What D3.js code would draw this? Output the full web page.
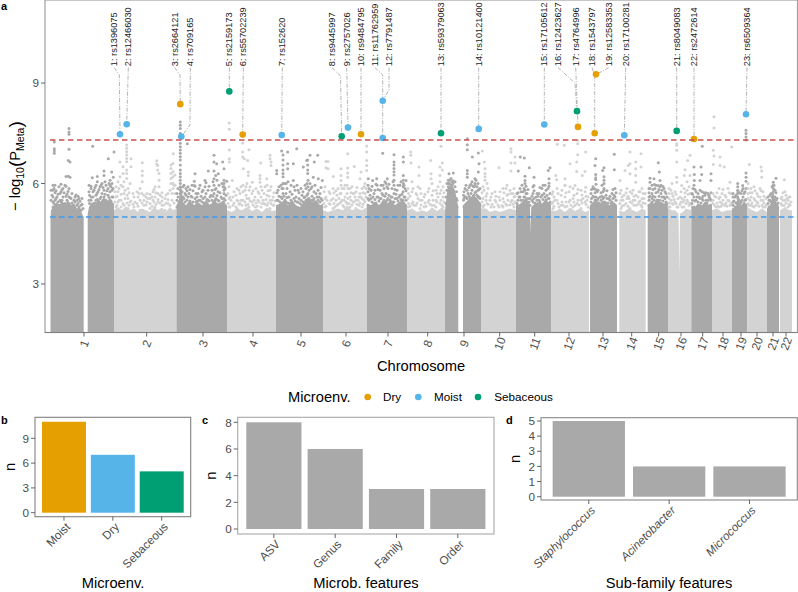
<!DOCTYPE html>
<html><head><meta charset="utf-8">
<script src="https://cdn.jsdelivr.net/npm/d3@7"></script>
<style>html,body{margin:0;padding:0;background:#fff}svg{display:block;font-family:"Liberation Sans",Arial,sans-serif}</style>
</head><body><svg id="c" width="798" height="592"></svg>
<script>
// ---------- panel a data: genome position is in plot units (0..742), value is -log10(P)
const chrNames=["1","2","3","4","5","6","7","8","9","10","11","12","13","14","15","16","17","18","19","20","21","22"];
const chrTicks=[34,96.7,153,203,251,296,338,377.7,414,449.7,484.7,519,553,581.7,608.7,631,652.7,673,691,707,723,736];
const chrShade=[1,0,1,0,1,0,1,0,1,0,1,0,1,0,1,0,1,0,1,0,1,0];
const chrProfiles=[
 [[[0.5,4.9],[1,5.2],[4,5.35],[7,5.45],[9,5.3],[12,5.5],[15,5.35],[18,5.5],[21,5.3],[24,5.4],[27,5.25],[30,5.3],[32,5.1],[33.7,5.0]],[[37.7,5.1],[39,5.3],[42,5.45],[45,5.35],[48,5.55],[51,5.45],[54,5.6],[57,5.45],[60,5.55],[62,5.45],[64,5.4]]],
 [[[64,5.2],[68,5.3],[72,5.2],[76,5.32],[80,5.2],[84,5.25],[88,5.15],[92,5.25],[96,5.2],[100,5.15],[104,5.3],[108,5.2],[112,5.28],[116,5.15],[120,5.3],[123,5.2],[126.5,5.25]]],
 [[[126.5,5.35],[129,5.5],[130,5.9],[131.5,5.9],[133,5.45],[136,5.35],[140,5.5],[144,5.35],[148,5.45],[152,5.35],[156,5.5],[160,5.35],[164,5.5],[168,5.4],[172,5.45],[177,5.35]]],
 [[[177,5.2],[182,5.15],[187,5.25],[192,5.2],[197,5.3],[202,5.18],[207,5.25],[212,5.15],[217,5.28],[222,5.18],[226,5.2]]],
 [[[226,5.35],[230,5.4],[234,5.5],[238,5.35],[242,5.5],[246,5.35],[250,5.3],[254,5.45],[258,5.6],[262,5.45],[266,5.5],[270,5.35],[273,5.4]]],
 [[[273,5.2],[278,5.15],[283,5.2],[288,5.25],[293,5.2],[297,5.35],[302,5.2],[307,5.25],[312,5.2],[317,5.3]]],
 [[[317,5.4],[321,5.35],[325,5.45],[329,5.35],[333,5.5],[337,5.4],[341,5.5],[345,5.35],[349,5.45],[353,5.5],[357,5.35]]],
 [[[357,5.2],[362,5.25],[367,5.15],[372,5.2],[377,5.15],[382,5.28],[387,5.18],[392,5.28],[395,5.2]]],
 [[[395,5.2],[396.5,5.6],[398,5.9],[402,5.95],[405,5.8],[408.3,5.3]],[[413,5.35],[416,5.45],[421,5.6],[426,5.6],[431,5.4]]],
 [[[431,5.25],[436,5.25],[440,5.15],[445,5.2],[450,5.15],[455,5.2],[460,5.25],[466,5.2]]],
 [[[466,5.35],[472,5.4],[476,5.6],[480,5.35],[480.6,4.5],[481.2,5.3],[485,5.4],[488,5.45],[492,5.4],[495,5.5],[501,5.4]]],
 [[[501,5.2],[506,5.18],[510,5.25],[515,5.15],[520,5.28],[525,5.18],[530,5.25],[535,5.15],[539,5.2]]],
 [[[540,5.35],[543,5.45],[546,5.5],[550,5.4],[553,5.5],[556,5.4],[560,5.35],[564,5.45],[567,5.35]]],
 [[[569.3,5.2],[574,5.15],[578,5.25],[583,5.2],[587,5.15],[592,5.25],[595.7,5.2]]],
 [[[597.7,5.35],[601,5.45],[604,5.4],[607,5.55],[610,5.45],[614,5.4],[618,5.45]]],
 [[[618,5.25],[622,5.2],[625,5.2],[628.6,5.1],[629.3,3.2],[630,5.1],[633,5.15],[636,5.25],[641,5.2]]],
 [[[641.3,5.35],[645,5.3],[648,5.4],[652,5.35],[655,5.45],[659,5.35],[662,5.4]]],
 [[[662,5.2],[667,5.25],[672,5.15],[677,5.2],[682,5.2]]],
 [[[682,5.25],[686,5.3],[688,5.6],[690,5.35],[694,5.4],[697.3,5.4]]],
 [[[697.3,5.3],[702,5.2],[707,5.15],[712,5.25],[717,5.15]]],
 [[[717,5.25],[721,5.4],[723,5.85],[725,5.5],[729,5.3]]],
 [[[730,5.2],[733,5.25],[736,5.25],[739,5.2],[742,5.2]]]
];
// scattered SNPs above the solid mass: [position,value,value...]
const chr1Snps=[[4.3,7.24,7.04,6.98,6.9],[19,7.64,7.54,7.47,7.02],[18.3,6.69,6.22],[20,6.64,6.19],[16,6.21],[3,5.95,5.8,5.6,5.45,5.3],[5,5.95,5.72,5.5,5.2],[7,5.6,5.35,5.15],[10,5.7,5.5,5.3],[11,5.98,5.75,5.45],[13,5.85,5.6,5.25],[15,5.95,5.4,5.2],[17,5.68,5.5,5.3],[19,5.85,5.6,5.4,5.15],[21,5.55,5.3],[23,5.35,5.2],[25,5.6,5.45,5.25],[27,5.5,5.35,5.15],[29,5.55,5.3],[31,5.35,5.2],[33,5.25],[42.7,7.11],[64,6.94],[58.3,6.74],[54,6.37,6.24],[61.7,6.34],[47.3,6.21,6.05],[42.3,6.17],[63.3,6.19],[60,6.1,5.95],[62,6.0],[39,5.95,5.75,5.5],[41,5.85,5.6,5.3],[44,5.8,5.4,5.2],[46,5.95,5.65,5.5],[48,5.75,5.3],[50,5.9,5.55,5.35],[52,6.0,5.7,5.45],[54,5.8,5.6,5.3],[56,5.95,5.5,5.2],[58,5.85,5.65,5.4],[60,5.75,5.5,5.3],[62,5.8,5.6,5.35],
 [1,5.5,5.8],[2,5.65],[4,5.4,5.85],[6,5.55,5.78],[8,5.45,5.68],[9,5.9,5.35],[12,5.5,5.82],[14,5.38,5.72],[16,5.62,5.92],[18,5.42,5.76],[20,5.58,5.35],[22,5.7,5.42],[24,5.5,5.34],[26,5.66],[28,5.4,5.62],[30,5.47],[32,5.38,5.55],[39.5,5.4,5.65],[41,5.5,5.92],[43,5.6,5.75],[45,5.42,5.88],[47,5.52,5.7],[49,5.45,5.82],[51,5.6,5.95],[53,5.5,5.88],[55,5.68,6.05],[57,5.45,5.78],[59,5.58,6.0],[61,5.47,5.9],[63,5.6,5.85]];
const chr2Snps=[[76.7,7.15,7.05,6.95,6.85,6.75,6.65,6.4,6.3,6.15],[70,6.64,6.2],[81,6.74,6.5],[73,6.5,6.3],[92.3,6.62,6.37,6.24,6.05],[106.7,6.68,6.58],[107.7,6.54,6.4],[109,6.3,6.1,5.9],[123.3,6.89],[121,6.55,6.45,6.3,6.15,6],[123,6.6,6.35,6.2,6,5.85],[125,6.25,5.95,5.7],[66,5.9,5.6,5.3],[68,6.05,5.75,5.45],[71,5.95,5.5],[74,6.05,5.7,5.35],[78,5.85,5.55,5.25],[80,6,5.45],[84,5.6,5.3],[87,5.75,5.4],[90,5.85,5.5,5.2],[94,5.65,5.35],[97,5.7,5.45],[100,5.55,5.25],[103,5.75,5.5],[105,5.9,5.6,5.3],[108,5.7,5.45],[112,5.6,5.35],[115,5.55,5.2],[118,5.7,5.4],
 [65,5.45,5.75],[67,5.35,5.62],[69,5.5,5.85],[71,5.3,5.68],[73,5.4,5.9],[75,5.55,5.8],[77,5.42,5.65],[79,5.35,5.72],[81,5.48],[83,5.38,5.7],[85,5.45],[88,5.32,5.6],[89,5.7],[92,5.42,5.7],[94,5.5],[96,5.36,5.6],[98,5.55],[100,5.4,5.68],[102,5.32,5.6],[104,5.45,5.82],[106,5.38,5.72],[108,5.52],[110,5.42,5.65],[112,5.48,5.72],[114,5.36],[116,5.42,5.66],[118,5.52],[120,5.35,5.8],[122,5.5,5.7],[124,5.42,5.95]];
const chr3Snps=[[130.3,7.84,7.74,7.64,7.5,7.2,7.1,7.0,6.9,6.8,6.7,6.55,6.4,6.3,6.2,6.1,6,5.9,5.8,5.7,5.5,5.4],[137.3,7.19],[145,6.29],[144.3,6.07,5.94],[164,6.84,6.64,6.37,6.14],[166.7,6.59],[172.7,6.64],[174,6.44,6.1,6,5.9,5.8,5.7,5.55,5.4],[158.3,6.37],[168.3,6.29],[165.7,6.24],[155,6.09],[176.7,6.07],[127,5.7,5.5,5.3],[133,5.9,5.6,5.35],[136,5.85,5.65,5.3],[139,5.7,5.4],[142,5.95,5.6,5.35],[146,5.7,5.45,5.2],[149,5.85,5.5],[152,5.75,5.45],[155,5.9,5.6,5.3],[158,5.8,5.5],[161,5.65,5.35],[164,5.95,5.7,5.45],[166,5.85,5.55,5.3],[168,5.75,5.5],[171,5.6,5.35],[173,5.9,5.45],
 [128,5.6,5.85],[129,5.45],[132,5.5,5.75],[134,5.55,5.95],[135,5.45,5.7],[137,5.5,5.78],[138,5.6,5.9],[140,5.48,5.82],[141,5.62],[143,5.45,5.78],[145,5.55,5.92],[147,5.48,5.6],[148,5.7],[150,5.5,5.95],[151,5.62],[153,5.55,5.8],[154,5.42],[156,5.7,6.02],[157,5.52],[159,5.48,5.92],[160,5.6],[162,5.5,5.8],[163,5.62,6.05],[165,5.5,5.82],[167,5.64,6.1],[169,5.48,5.95],[170,5.72],[172,5.55,6.0],[175,5.5,5.85],[176,5.65]];
const chr4Snps=[[179.3,7.81,7.62,7.0,6.74,6.64],[192.7,7.21,6.94,6.79],[194.3,6.74],[199,7.01],[197.7,6.69],[193.3,6.44],[198.3,6.34,6.24],[182.3,6.09],[220,6.84,6.74],[221,6.64,6.54],[210.7,6.61],[210,6.24,6.14,6.04],[216.7,6.14],[202.3,6.04],[179,5.9,5.55,5.3],[183,5.6,5.35],[187,5.85,5.5,5.25],[190,5.7,5.4],[193,5.95,5.75,5.5],[196,5.9,5.65,5.35],[199,5.8,5.55,5.3],[202,5.7,5.45],[205,5.6,5.3],[208,5.75,5.5],[211,5.9,5.6,5.3],[214,5.7,5.4],[217,5.95,5.65,5.35],[220,5.8,5.5,5.25],[223,5.6,5.35],
 [178,5.4,5.7],[180,5.3,5.6],[181,5.5],[184,5.42,5.75],[186,5.3,5.65],[188,5.48],[189,5.38,5.8],[191,5.5,5.9],[192,5.35],[195,5.45,5.8],[197,5.55,6.0],[198,5.38],[200,5.48,5.9],[203,5.36,5.78],[204,5.5],[206,5.42,5.85],[207,5.32],[209,5.45,5.7],[212,5.4,5.8],[213,5.5],[215,5.38,5.9],[216,5.52],[218,5.42,5.78],[219,5.62],[221,5.4,5.9],[222,5.5],[224,5.36,5.72],[225,5.48]];
const chr5Snps=[[231.7,6.97],[237.7,6.94,6.59,6.44],[246.7,7.04],[233,6.85,6.7,6.55,6.4,6.3,6.2,6.0,5.85,5.7],[243.3,6.59,6.09],[253.3,6.49],[256.7,6.69],[260,6.84],[257.7,6.7,6.55,6.4,6.3],[264.3,6.64],[267.7,6.84],[263.3,6.19],[268.3,6.14],[272.3,6.09],[226.7,6.39,6.29],[228,5.8,5.5,5.3],[231,5.95,5.6,5.35],[236,6,5.7,5.45],[240,5.75,5.4],[244,5.9,5.55,5.3],[248,5.8,5.45],[252,5.65,5.35],[255,5.95,5.6,5.4],[258,6.1,5.9,5.7,5.5],[261,5.85,5.5,5.3],[264,5.75,5.55,5.35],[267,5.6,5.4],[270,5.7,5.45,5.25],[272,5.5,5.3],
 [227,5.5,5.72],[229,5.62,5.9],[230,5.45],[232,5.55,5.85],[234,5.62,6.0],[235,5.5],[237,5.58,5.85],[238,5.42,6.05],[239,5.6],[241,5.5,5.95],[242,5.68],[245,5.48,5.8],[246,5.6],[247,5.45,5.95],[249,5.55,5.72],[250,5.4],[251,5.5,5.85],[253,5.45,5.75],[254,5.58],[256,5.5,5.85],[257,5.65,6.0],[259,5.55,5.8],[260,5.42,6.0],[262,5.62,5.9],[263,5.5],[265,5.45,5.95],[266,5.7],[268,5.5,5.8],[269,5.6],[271,5.55,5.88]];
const chr6Snps=[[276,6.66,6.47],[278,6.66,6.44],[283.3,6.21],[291,6.44,6.24,6.09],[297.7,6.89,6.46,6.31,6.19],[304.3,6.51],[310,6.14],[311,6.34],[316.7,7.12,6.94,6.69,6.54,6.39],[275,5.9,5.55,5.3],[279,5.75,5.4],[283,5.85,5.55,5.25],[287,5.65,5.35],[291,5.95,5.7,5.45],[294,5.85,5.5,5.3],[297,5.95,5.7,5.4],[300,5.85,5.6,5.3],[303,5.7,5.45],[306,5.75,5.5,5.25],[309,5.6,5.35],[312,5.85,5.55,5.3],[315,6,5.7,5.45],
 [274,5.4,5.75],[276,5.32,5.6],[277,5.5],[280,5.38,5.7],[281,5.5],[284,5.4,5.72],[285,5.3],[286,5.5,5.78],[288,5.38,5.85],[289,5.55],[290,5.42,5.7],[292,5.5,5.85],[293,5.34],[295,5.6,5.95],[296,5.45],[298,5.55,5.85],[299,5.4],[301,5.5,5.72],[302,5.36,5.9],[304,5.45,5.7],[305,5.6],[307,5.38,5.88],[308,5.5],[310,5.42,5.7],[311,5.6],[313,5.38,5.72],[314,5.5,5.9],[316,5.6,5.85]];
const chr7Snps=[[332.7,6.9],[344,6.86,6.64,6.55,6.45,6.35,6.25,6.1],[353.3,6.79,6.64,6.24,6.1,6,5.9],[318.3,6.14],[322.7,6.09],[326.7,6.14],[337.3,6.14],[356,6.09],[318,5.95,5.75,5.55,5.35],[321,5.8,5.55,5.3],[324,5.7,5.4],[327,5.95,5.6,5.35],[330,5.8,5.55],[333,5.95,5.65,5.35],[336,6,5.7,5.45],[338,5.85,5.55,5.3],[341,5.6,5.35],[344,5.95,5.7,5.45],[347,5.8,5.55,5.3],[350,5.95,5.65,5.4],[353,5.75,5.5,5.3],[355,5.85,5.6,5.35],
 [319,5.5,5.85],[320,5.65],[322,5.45,5.92],[323,5.6],[325,5.52,5.8],[326,5.42,5.98],[328,5.6,5.82],[329,5.48],[331,5.55,5.95],[332,5.7],[334,5.5,5.85],[335,5.62,6.05],[337,5.5,5.9],[339,5.65,5.98],[340,5.5],[342,5.6,5.85],[343,5.45,6.05],[345,5.55,5.82],[346,5.68],[348,5.48,5.95],[349,5.6],[351,5.52,6.05],[352,5.68],[354,5.6,5.95],[356,5.5,5.78]];
const chr8Snps=[[360.7,6.94,6.84],[361,6.61],[369,6.49,6.24],[380.7,6.69],[381,6.29,6.14],[391,7.11],[392.3,6.61,6.4],[390,6.49,6.24],[358,5.85,5.55,5.3],[362,6.05,5.75,5.4],[366,5.7,5.35],[370,5.85,5.5,5.25],[374,5.6,5.3],[378,5.75,5.45],[382,6,5.65,5.35],[386,5.8,5.5,5.3],[390,6.05,5.7,5.4],[393,5.9,5.6,5.3],
 [358.5,5.4,5.7],[360,5.32,5.62],[363,5.45,5.85],[364,5.35],[367,5.42,5.66],[368,5.55,5.9],[371,5.36,5.7],[372,5.5],[375,5.42,5.68],[376,5.32],[379,5.5,5.85],[380,5.38],[383,5.5,5.78],[384,5.35],[387,5.45,5.7],[388,5.6,5.9],[391,5.5,5.8],[392,5.35],[394,5.45,5.72]];
const chr9Snps=[[399,6.29],[403.3,6.31],[398.3,6.1,6,5.9,5.8,5.7,5.6],[402,6.05,5.95],[417.3,7.34,7.16,7.01,6.39,6.29,6.19],[422.3,6.79],[428.3,6.91,6.34],[429,6.59],[425,6.14,6.0],[396,5.6,5.4],[407,5.5,5.3],[414,5.75,5.55,5.3],[416,5.95,5.6],[418,5.7,5.4],[420,5.95,5.55,5.3],[422,6.05,5.8,5.45],[424,5.9,5.65,5.35],[426,6.1,5.75,5.5],[428,6.0,5.8,5.6,5.3],[430,5.85,5.55,5.35],
 [397,5.8,6.0],[399.5,6.0,6.1],[401,5.95,6.15],[403,6.0,6.08],[405,5.9,6.05],[406.5,5.55,5.75],[413.5,5.5,5.65],[415,5.6,5.85],[417,5.55,5.8],[419,5.62,5.88],[421,5.7,5.98],[423,5.62,5.92],[425,5.72,5.95],[427,5.65,5.9],[429,5.6,5.82]];
const chr10Snps=[[432.3,6.97],[434.3,6.64],[435,6.44,6.3,6.2,6.1],[449,6.47],[461,7.04,6.94,6.61,6.37],[465,6.79,6.61],[433,5.9,5.55,5.3],[437,6,5.7,5.4],[441,5.6,5.3],[445,5.75,5.5],[449,5.6,5.3],[453,5.85,5.55,5.3],[457,5.95,5.65,5.35],[461,5.7,5.45],[464,5.85,5.6,5.3],
 [432,5.45,5.72],[434,5.35,5.8],[436,5.5,5.62],[438,5.38,5.85],[440,5.5],[442,5.38,5.7],[444,5.3],[446,5.45,5.62],[448,5.36],[450,5.5,5.75],[452,5.34],[454,5.45,5.72],[456,5.38,5.85],[458,5.5,5.68],[460,5.36,5.8],[462,5.5],[463,5.38,5.7],[465,5.45,5.62]];
const chr11Snps=[[470.3,6.79],[474.3,6.76],[468.3,6.37],[479.3,6.47],[475,6.22,6.09],[484,6.19,5.94],[500,6.47],[498.3,6.39],[499,6.14,6.01],[467,5.7,5.4],[470,5.85,5.6,5.3],[473,5.75,5.5],[475,6.0,5.8,5.6,5.4],[477,5.7,5.45],[480,5.55,5.35],[483,5.9,5.7,5.45],[486,5.6,5.35],[489,5.7,5.5],[492,5.85,5.65,5.35],[495,5.95,5.6,5.4],[498,5.85,5.55,5.3],[500,5.7,5.45],
 [468,5.5,5.72],[469,5.6],[471,5.5,5.75],[472,5.4,5.95],[474,5.6,5.85],[476,5.7,5.92],[478,5.55,5.82],[479,5.45],[482,5.5,5.62],[484,5.55,5.78],[485,5.42],[487,5.5,5.7],[488,5.62],[490,5.45,5.88],[491,5.6],[493,5.52,5.95],[494,5.7],[496,5.5,5.8],[497,5.65],[499,5.55,5.92]];
const chr12Snps=[[507.3,7.17],[514.3,7.14],[505.7,6.24],[506.7,6.11],[515,6.14,5.94],[520,6.59],[527.7,7.29,7.19,6.86],[535.7,6.94],[526.7,6.64,6.36],[535,6.36],[532.3,6.24],[525,5.94],[535.7,5.89],[503,5.75,5.45,5.25],[507,5.85,5.5],[511,5.65,5.35],[515,5.95,5.6,5.3],[519,5.75,5.45],[523,5.85,5.55,5.3],[527,5.7,5.4],[531,5.8,5.5,5.25],[535,5.75,5.45],[538,5.6,5.3],
 [502,5.4,5.68],[504,5.32,5.6],[505,5.5],[508,5.4,5.7],[509,5.3],[512,5.45,5.8],[513,5.35],[516,5.45,5.72],[517,5.32],[520,5.5,5.9],[521,5.36],[524,5.45,5.65],[525,5.34],[528,5.5,5.82],[529,5.36],[532,5.42,5.66],[533,5.55],[536,5.38,5.62],[537,5.5]];
const chr13Snps=[[545.7,6.74,6.27,6.17,6.12,5.82],[545,6.54],[564.3,6.87,6.41],[554,6.47,6.2,6.1,6,5.85],[552.7,6.39],[543.3,5.84],[541,5.7,5.45,5.25],[544,5.85,5.6,5.35],[547,5.75,5.5,5.3],[550,5.6,5.35],[553,5.75,5.55,5.3],[556,5.65,5.4],[559,5.55,5.3],[562,5.7,5.45],[565,5.85,5.6,5.35],
 [541.5,5.55,5.82],[543,5.62,5.9],[545,5.5,5.72],[546,5.6,5.98],[548,5.55,5.8],[549,5.42],[551,5.5,5.72],[552,5.62,5.95],[554,5.58,5.8],[555,5.45],[557,5.55,5.78],[558,5.42],[560,5.5,5.62],[561,5.4],[563,5.55,5.82],[564,5.65],[566,5.5,5.72]];
const chr14Snps=[[580,6.94,6.59,6.29],[591,6.89,6.49],[585.7,6.64,6.44,6.24,6.04],[578.3,6.54],[575,6.39],[570,6.09],[571,5.8,5.5,5.25],[574,5.65,5.35],[577,5.85,5.55],[580,5.75,5.45,5.25],[583,5.8,5.5],[586,5.65,5.35],[589,5.75,5.45],[592,5.85,5.55,5.3],[595,5.7,5.4],
 [570,5.4,5.7],[572,5.32,5.6],[573,5.5],[576,5.4,5.72],[578,5.32,5.62],[579,5.55],[582,5.42,5.7],[584,5.35,5.62],[585,5.5],[588,5.38,5.6],[590,5.48,5.75],[591,5.35],[593,5.42,5.7],[594,5.55]];
const chr15Snps=[[608.3,6.62],[609.3,6.34],[600,6.16,6.04],[604,6.14],[610,6.09],[608,5.94],[613,5.91],[604.5,5.97],[599,5.85,5.6,5.35],[602,5.95,5.7,5.45],[605,5.85,5.6,5.3],[608,5.75,5.5],[611,5.95,5.7,5.4],[614,5.85,5.6,5.35],[616,5.7,5.45],
 [599,5.5,5.72],[600,5.62,5.85],[602,5.55],[603,5.62,5.82],[604,5.5],[606,5.72,5.95],[607,5.5],[609,5.62,5.82],[610,5.5,5.9],[612,5.6,5.8],[613,5.48],[615,5.55,5.75],[617,5.6]];
const chr16Snps=[[626.7,7.19,7.14,6.99,6.64,6.19,6.04],[640,6.84,6.24],[637.7,6.69],[635,6.41],[634.3,6.24],[631.7,5.94],[619,5.85,5.55,5.3],[622,6,5.7,5.4],[625,5.75,5.45],[628,5.55,5.3],[631,5.75,5.45],[634,5.85,5.5,5.3],[637,6.05,5.8,5.5],[640,5.7,5.4],
 [619,5.42,5.7],[620,5.3],[621,5.5,5.8],[623,5.38,5.62],[624,5.52],[626,5.4,5.68],[627,5.3],[630,5.38,5.6],[632,5.3,5.55],[633,5.45],[635,5.6,5.72],[636,5.4],[638,5.45,5.68],[639,5.35,5.9]];
const chr17Snps=[[644,6.49],[644.3,6.27,6.09],[651,6.49],[651.7,6.27],[650,6.09],[652.3,7.11],[661,6.29,6.09],[642,5.7,5.4],[644,5.95,5.6,5.3],[646,5.75,5.5],[649,5.6,5.35],[652,5.75,5.55,5.3],[655,5.65,5.4],[658,5.7,5.5,5.3],[660,5.55,5.35],
 [642.5,5.5,5.68],[643,5.85],[645,5.48,5.82],[647,5.6],[648,5.45,5.7],[650,5.55,5.8],[651,5.42],[653,5.5,5.62],[654,5.72],[656,5.5,5.72],[657,5.42],[659,5.6,5.65],[661,5.5,5.72]];
const chr18Snps=[[664,7.99,7.66,6.82],[663.3,6.99,6.57],[670,6.79,6.54],[674.3,6.49],[681.7,7.09],[663,5.7,5.4],[666,5.6,5.3],[669,5.85,5.55,5.3],[672,5.7,5.4],[675,5.65,5.35],[678,5.85,5.5],[681,5.7,5.4],[680,6.04],
 [663,5.5],[664.5,5.35,5.62],[667,5.42,5.72],[668,5.32],[670,5.45,5.6],[671,5.32],[673,5.5,5.82],[674,5.36],[676,5.42,5.6],[677,5.32],[679,5.48,5.72],[680,5.35]];
const chr19Snps=[[696,7.59,7.49,7.39,7.3,6.31,6.19,6.07],[687.7,6.0,5.9,5.8,5.7,5.6,5.45],[692.7,5.94],[683,5.7,5.45],[685,5.6,5.3],[688,5.75,5.55,5.35],[691,5.7,5.45],[693,5.85,5.6,5.35],[695,5.75,5.5,5.3],
 [683,5.35,5.6],[684,5.48],[686,5.42,5.65],[689,5.5,5.72],[690,5.4],[692,5.5,5.78],[694,5.42,5.7],[696,5.52,5.85]];
const chr20Snps=[[699.3,6.57],[711,6.49],[711.7,6.37,6.19],[698,6.0,5.7,5.4],[701,5.85,5.6,5.35],[704,5.9,5.55,5.3],[707,5.7,5.45],[710,5.85,5.6],[713,5.75,5.5,5.3],[716,5.55,5.35],
 [698,5.55,5.85],[699,5.35],[700,5.5,5.72],[702,5.42,5.72],[703,5.32],[705,5.5,5.78],[706,5.35],[708,5.42,5.62],[709,5.32],[711,5.5,5.78],[712,5.36],[714,5.42,5.62],[715,5.3]];
const chr21Snps=[[726,6.16],[723.3,6.04,5.95,5.85,5.75,5.6,5.5,5.35],[719,5.5,5.3],[721,5.7,5.45],[725,5.8,5.6,5.4],[727,5.55,5.35],
 [718,5.4,5.6],[720,5.5,5.65],[722,5.6,5.9],[724,5.55,5.95],[726,5.5,5.72],[728,5.42]];
const chr22Snps=[[734.3,6.11],[732,5.6,5.35],[735,5.75,5.5,5.25],[738,5.5,5.3],[740,5.6,5.35],
 [731,5.4,5.55],[733,5.5,5.72],[734,5.35],[736,5.42,5.65],[737,5.55],[739,5.38,5.6],[741,5.45]];
const allChrSnps=[chr1Snps,chr2Snps,chr3Snps,chr4Snps,chr5Snps,chr6Snps,chr7Snps,chr8Snps,chr9Snps,chr10Snps,chr11Snps,chr12Snps,chr13Snps,chr14Snps,chr15Snps,chr16Snps,chr17Snps,chr18Snps,chr19Snps,chr20Snps,chr21Snps,chr22Snps];

// associated SNPs
const hitIds=["rs1396075","rs12466030","rs2664121","rs709165","rs2159173","rs55702239","rs152620","rs9445997","rs2757026","rs9484795","rs11762959","rs7791487","rs59379063","rs10121400","rs17105612","rs12423627","rs4764996","rs1543797","rs12583353","rs17100281","rs8049083","rs2472614","rs6509364"];
const hitPos=[70,76.7,130.3,131.3,179.3,192.7,231.7,291.7,298,311,332.7,332.7,391,428.7,494.3,527,528,544.7,546,574.3,626.7,644,696];
const hitVal=[7.47,7.77,8.37,7.40,8.75,7.46,7.45,7.41,7.67,7.47,7.36,8.47,7.50,7.63,7.76,8.16,7.69,7.50,9.26,7.44,7.57,7.33,8.07];
const hitEnv=["Moist","Moist","Dry","Moist","Sebaceous","Dry","Moist","Sebaceous","Moist","Dry","Moist","Moist","Sebaceous","Moist","Moist","Sebaceous","Dry","Dry","Dry","Moist","Sebaceous","Dry","Moist"];
const labelPos=[64.3,78.3,124.7,140.3,179.3,193.3,232.3,282,296.7,311,325,339,391,428.7,494.3,508,525.7,542,558.7,575.7,626.7,644,697];
// leader bends: [hit index, position, value]
const leaderBends=[[0,69.3,9.24],[2,130,9.24],[3,140,7.75],[7,290.5,9.21],[10,332.7,9.24],[11,339,8.8],[15,525,9],[17,544.7,9.24],[18,553,9.36]];
const thresholdHigh=7.3, thresholdLow=5.0;
const envNames=["Dry","Moist","Sebaceous"];
const envColors=["#E69F00","#56B4E9","#009E73"];
const yTicksA=[3,6,9];

// ---------- bar panels
const bCats=["Moist","Dry","Sebaceous"], bVals=[11,7,5], bColors=["#E69F00","#56B4E9","#009E73"], bTicks=[0,3,6,9];
const cCats=["ASV","Genus","Family","Order"], cVals=[8,6,3,3], cTicks=[0,2,4,6,8];
const dCats=["Staphylococcus","Acinetobacter","Micrococcus"], dVals=[5,2,2], dTicks=[0,1,2,3,4,5];

const svg=d3.select("#c");
const DARK="#a9a9a9", LIGHT="#d3d3d3", TICK="#4d4d4d";
const FS=11.7, TS=14.7;

// ---- panel a
const x=d3.scaleLinear().domain([-5,747]).range([45,797]);
const y=d3.scaleLinear().domain([1.55,11.48]).range([332.5,0]);
const A=svg.append("g");
const area=d3.area().x(d=>x(d[0])).y0(y(1.55)).y1(d=>y(d[1]));
chrProfiles.forEach((segs,i)=>{
  const col=chrShade[i]?DARK:LIGHT;
  segs.forEach(s=>A.append("path").attr("d",area(s)).attr("fill",col));
  const pts=allChrSnps[i].flatMap(r=>r.slice(1).map(v=>[r[0],v]));
  A.append("g").selectAll("circle").data(pts).join("circle")
   .attr("cx",d=>x(d[0])).attr("cy",d=>y(d[1])).attr("r",1.5).attr("fill",col);
});
// leaders
const envCol=d3.scaleOrdinal(envNames,envColors);
const LABEL_V=9.46;
const line=d3.line().x(d=>x(d[0])).y(d=>y(d[1]));
hitIds.forEach((id,i)=>{
  const bends=leaderBends.filter(b=>b[0]===i).map(b=>[b[1],b[2]]);
  const p=[[labelPos[i],LABEL_V],...bends,[hitPos[i],hitVal[i]]];
  A.append("path").attr("d",line(p)).attr("fill","none").attr("stroke","#aaaaaa").attr("stroke-width",0.9).attr("stroke-dasharray","4 1.5 1 1.5");
});
A.append("g").selectAll("circle").data(hitIds.map((d,i)=>i)).join("circle")
 .attr("cx",i=>x(hitPos[i])).attr("cy",i=>y(hitVal[i])).attr("r",3.3).attr("fill",i=>envCol(hitEnv[i]));
hitIds.forEach((id,i)=>{
  const px=x(labelPos[i]), py=y(LABEL_V)-1.5;
  A.append("text").attr("transform",`translate(${px+3.1},${py}) rotate(-90)`)
   .attr("font-size",9.2).attr("fill","#222").text(`${i+1}: ${id}`);
});
[[thresholdHigh,"#c9504f"],[thresholdLow,"#3f9cf0"]].forEach(([v,c])=>{
  A.append("line").attr("x1",x(0)).attr("x2",797).attr("y1",y(v)).attr("y2",y(v))
   .attr("stroke",c).attr("stroke-width",1.5).attr("stroke-dasharray","5.5 3.5");
});
A.append("rect").attr("x",45).attr("y",0).attr("width",752.5).attr("height",332.5)
 .attr("fill","none").attr("stroke","#a0a0a0").attr("stroke-width",1.2);
A.append("line").attr("x1",45).attr("x2",797.5).attr("y1",332.5).attr("y2",332.5).attr("stroke","#808080").attr("stroke-width",1.2);
yTicksA.forEach(t=>{
  A.append("line").attr("x1",41).attr("x2",45).attr("y1",y(t)).attr("y2",y(t)).attr("stroke","#555").attr("stroke-width",0.9);
  A.append("text").attr("x",39).attr("y",y(t)+4.2).attr("text-anchor","end").attr("font-size",FS).attr("fill",TICK).text(t);
});
chrNames.forEach((n,i)=>{
  const tx=x(chrTicks[i]);
  A.append("line").attr("x1",tx).attr("x2",tx).attr("y1",332.5).attr("y2",336.5).attr("stroke","#555").attr("stroke-width",0.9);
  A.append("text").attr("transform",`translate(${tx+4},${345}) rotate(-70)`).attr("text-anchor","middle").attr("font-size",FS).attr("fill",TICK).text(n);
});
A.append("text").attr("x",421).attr("y",370.5).attr("text-anchor","middle").attr("font-size",TS).attr("fill","#000").text("Chromosome");
// y title with sub-scripts
const yt=A.append("text").attr("transform","translate(20,211) rotate(-90)").attr("font-size",TS).attr("fill","#000");
yt.append("tspan").text("\u2212 log");
yt.append("tspan").attr("font-size",10.5).attr("dy",3.5).text("10");
yt.append("tspan").attr("font-size",19).attr("dy",-2).text("(");
yt.append("tspan").attr("font-size",TS).attr("dy",-1.5).text("P");
yt.append("tspan").attr("font-size",10.5).attr("dy",3.5).text("Meta");
yt.append("tspan").attr("font-size",19).attr("dy",-2).text(")");
// legend
A.append("text").attr("x",288).attr("y",401.5).attr("font-size",TS).attr("fill","#000").text("Microenv.");
const legX=[367.7,418.3,478], legT=[383,434,494.3];
envNames.forEach((n,i)=>{
  A.append("circle").attr("cx",legX[i]).attr("cy",397).attr("r",3.3).attr("fill",envColors[i]);
  A.append("text").attr("x",legT[i]).attr("y",401).attr("font-size",FS).attr("fill","#000").text(n);
});

// ---- bar panels
function bars(o){
  const g=svg.append("g");
  const bx=d3.scaleBand().domain(o.cats).range([o.x0,o.x1]).paddingInner(o.pad).paddingOuter(o.outer);
  const by=d3.scaleLinear().domain([0,o.vmax]).range([o.y0,o.yTop]);
  g.selectAll("rect.b").data(o.cats).join("rect").attr("class","b")
   .attr("x",d=>bx(d)).attr("width",bx.bandwidth()).attr("y",(d,i)=>by(o.vals[i])).attr("height",(d,i)=>by(0)-by(o.vals[i]))
   .attr("fill",(d,i)=>o.colors?o.colors[i]:"#a9a9a9");
  g.append("rect").attr("x",o.x0).attr("y",o.top).attr("width",o.x1-o.x0).attr("height",o.bottom-o.top)
   .attr("fill","none").attr("stroke",o.border).attr("stroke-width",1.1);
  o.ticks.forEach(t=>{
    g.append("line").attr("x1",o.x0-4).attr("x2",o.x0).attr("y1",by(t)).attr("y2",by(t)).attr("stroke","#555").attr("stroke-width",0.9);
    g.append("text").attr("x",o.x0-6).attr("y",by(t)+4.2).attr("text-anchor","end").attr("font-size",FS).attr("fill",TICK).text(t);
  });
  o.cats.forEach(c=>{
    const tx=bx(c)+bx.bandwidth()/2;
    g.append("line").attr("x1",tx).attr("x2",tx).attr("y1",o.bottom).attr("y2",o.bottom+4).attr("stroke","#555").attr("stroke-width",0.9);
    g.append("text").attr("transform",`translate(${tx+7},${o.bottom+11}) rotate(-45)`).attr("text-anchor","end")
     .attr("font-size",FS).attr("fill",TICK).attr("font-style",o.italic?"italic":"normal").text(c);
  });
  g.append("text").attr("transform",`translate(${o.nx},${(o.top+o.bottom)/2}) rotate(-90)`).attr("text-anchor","middle").attr("font-size",TS).attr("fill","#000").text("n");
  g.append("text").attr("x",o.titleX).attr("y",588).attr("text-anchor","middle").attr("font-size",TS).attr("fill","#000").text(o.title);
}
bars({cats:bCats,vals:bVals,colors:bColors,ticks:bTicks,vmax:9,x0:35,x1:190.7,pad:0.1,outer:0.143,y0:512.7,yTop:438.3,top:417.3,bottom:516.7,border:"#808080",nx:15,title:"Microenv.",titleX:113});
bars({cats:cCats,vals:cVals,ticks:cTicks,vmax:8,x0:237.7,x1:494,pad:0.1,outer:0.14,y0:529,yTop:422.3,top:417.3,bottom:534,border:"#a8a8a8",nx:216,title:"Microb. features",titleX:366});
bars({cats:dCats,vals:dVals,ticks:dTicks,vmax:5,x0:541,x1:797.3,pad:0.1,outer:0.145,y0:496.7,yTop:421,top:417.7,bottom:500,border:"#888",nx:520,title:"Sub-family features",titleX:669,italic:true});
// tags
[["a",1,10],["b",1,424],["c",202,424],["d",506,424]].forEach(([t,tx,ty])=>{
  svg.append("text").attr("x",tx).attr("y",ty).attr("font-size",11).attr("font-weight","bold").attr("fill","#000").text(t);
});
</script></body></html>
